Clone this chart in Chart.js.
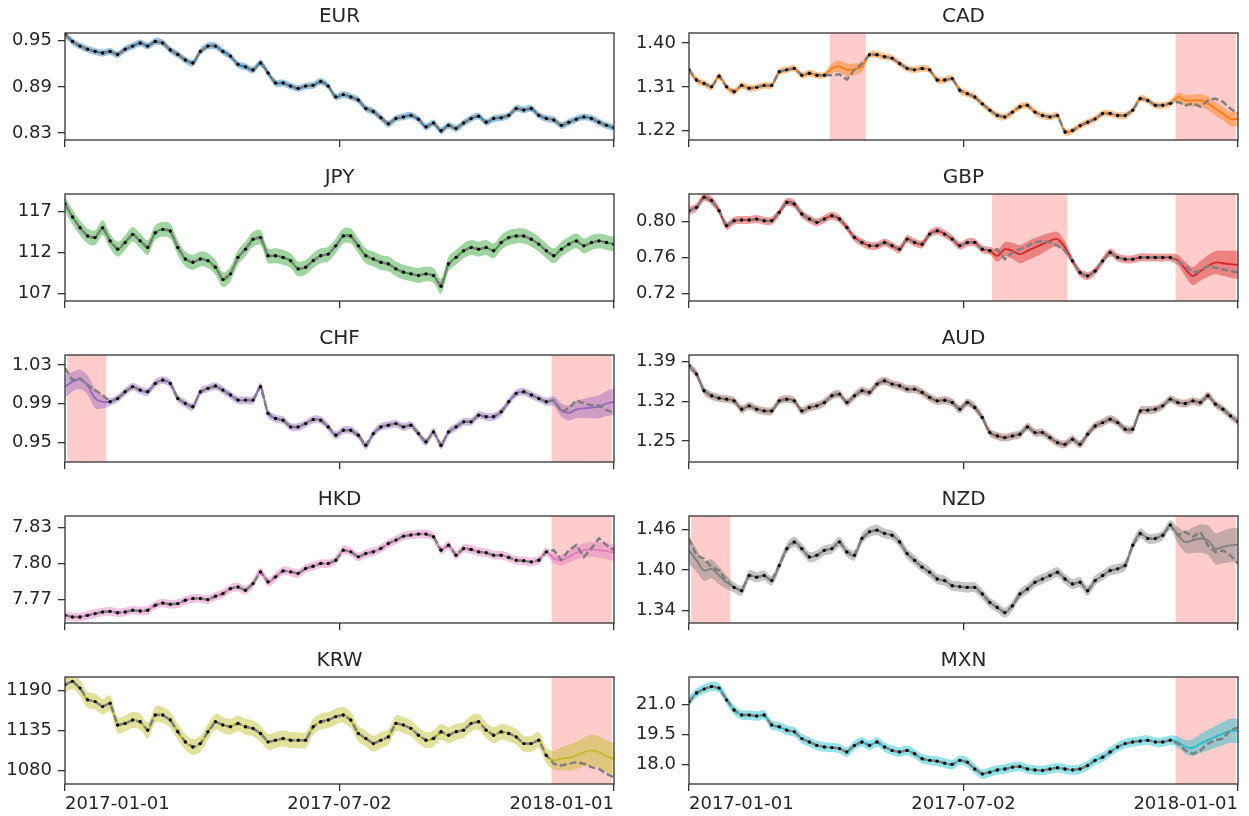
<!DOCTYPE html>
<html>
<head>
<meta charset="utf-8">
<title>Exchange rates per USD, 2017</title>
<script src="https://cdn.jsdelivr.net/npm/chart.js@4.4.1/dist/chart.umd.min.js"></script>
<style>
  html, body { margin: 0; padding: 0; background: #fff; }
  #wrap { position: relative; width: 1249px; height: 816px; overflow: hidden; }
  #wrap canvas { position: absolute; }
</style>
</head>
<body>
<div id="wrap"></div>
<script>
// sample days, counted from 2017-01-01
const days = [0,5,10,15,20,25,30,35,40,45,50,55,60,65,70,75,80,85,90,95,100,105,110,115,120,125,130,135,140,145,
  150,155,160,165,170,175,180,185,190,195,200,205,210,215,220,225,230,235,240,245,250,255,260,265,270,275,280,285,
  290,295,300,305,310,315,320,325,330,335,340,345,350,355,360,365];
const xTickDays = [0, 182.5, 365];
const xTickLabels = ['2017-01-01', '2017-07-02', '2018-01-01'];

// observed rates (dots + dashed line)
const eurObs = [0.958,0.949,0.943,0.939,0.936,0.934,0.936,0.932,0.939,0.943,0.947,0.943,0.949,0.947,0.938,0.932,0.925,0.921,0.936,0.943,
  0.943,0.936,0.930,0.919,0.916,0.912,0.921,0.908,0.895,0.895,0.891,0.888,0.891,0.892,0.897,0.891,0.877,0.880,0.877,0.873,
  0.862,0.858,0.850,0.842,0.849,0.851,0.853,0.848,0.838,0.843,0.833,0.840,0.836,0.843,0.849,0.852,0.844,0.849,0.850,0.853,
  0.862,0.860,0.862,0.853,0.849,0.847,0.840,0.844,0.848,0.851,0.849,0.844,0.840,0.837];
const cadObs = [1.345,1.324,1.317,1.310,1.332,1.310,1.300,1.313,1.307,1.309,1.313,1.313,1.341,1.345,1.348,1.334,1.338,1.334,1.334,1.334,
  1.336,1.325,1.345,1.358,1.376,1.376,1.372,1.369,1.358,1.348,1.345,1.348,1.345,1.324,1.324,1.327,1.303,1.296,1.289,1.275,
  1.262,1.251,1.248,1.258,1.269,1.272,1.258,1.251,1.248,1.251,1.217,1.220,1.230,1.237,1.244,1.255,1.255,1.251,1.251,1.262,
  1.286,1.282,1.272,1.272,1.276,1.279,1.272,1.276,1.269,1.282,1.286,1.279,1.265,1.255];
const jpyObs = [117.9,116.3,115.0,114.0,113.8,115.0,113.4,112.4,113.2,114.2,113.4,112.6,114.4,114.8,114.6,112.6,111.2,110.8,111.2,111.0,
  110.2,108.7,109.4,111.4,112.4,113.6,113.8,111.6,111.6,111.4,111.0,110.0,110.2,111.0,111.6,111.8,112.8,114.0,114.0,112.8,
  111.6,111.2,110.8,110.6,110.0,109.6,109.4,109.2,109.4,109.2,107.9,110.6,111.4,112.2,112.6,112.4,112.6,112.2,113.2,113.8,
  114.0,114.0,113.6,113.0,112.2,111.6,112.4,113.0,113.4,112.8,113.2,113.4,113.2,113.0];
const gbpObs = [0.8123,0.8161,0.8273,0.8236,0.8123,0.7955,0.8011,0.8019,0.8019,0.8030,0.8011,0.8011,0.8105,0.8217,0.8198,0.8086,0.8030,0.7993,0.8030,0.8067,
  0.8030,0.7936,0.7824,0.7768,0.7731,0.7731,0.7768,0.7731,0.7693,0.7806,0.7768,0.7749,0.7862,0.7899,0.7862,0.7806,0.7731,0.7768,0.7768,0.7693,
  0.7675,0.7693,0.7581,0.7656,0.7693,0.7731,0.7768,0.7787,0.7768,0.7731,0.7675,0.7562,0.7431,0.7394,0.7450,0.7562,0.7656,0.7600,0.7581,0.7581,
  0.7600,0.7600,0.7600,0.7600,0.7600,0.7562,0.7506,0.7431,0.7450,0.7506,0.7487,0.7469,0.7450,0.7431];
const chfObs = [1.0266,1.0145,1.0162,1.0093,1.0041,0.9990,0.9921,0.9955,1.0024,1.0076,1.0041,1.0024,1.0110,1.0145,1.0110,0.9955,0.9903,0.9869,1.0024,1.0059,
  1.0083,1.0041,0.9990,0.9938,0.9938,0.9938,1.0076,0.9800,0.9748,0.9731,0.9662,0.9662,0.9696,0.9738,0.9731,0.9662,0.9576,0.9627,0.9627,0.9576,
  0.9472,0.9593,0.9662,0.9679,0.9696,0.9662,0.9679,0.9593,0.9507,0.9610,0.9472,0.9610,0.9662,0.9714,0.9714,0.9783,0.9766,0.9766,0.9817,0.9921,
  1.0007,1.0024,0.9990,0.9955,0.9921,0.9938,0.9817,0.9852,0.9938,0.9903,0.9886,0.9886,0.9834,0.9807];
const audObs = [1.3829,1.3681,1.3386,1.3297,1.3256,1.3238,1.3208,1.3061,1.3120,1.3061,1.3031,1.3031,1.3208,1.3238,1.3208,1.3031,1.3090,1.3120,1.3179,1.3297,
  1.3327,1.3179,1.3297,1.3386,1.3356,1.3504,1.3563,1.3504,1.3474,1.3415,1.3415,1.3356,1.3268,1.3208,1.3220,1.3179,1.3061,1.3179,1.3090,1.2913,
  1.2647,1.2588,1.2558,1.2588,1.2618,1.2748,1.2647,1.2647,1.2558,1.2470,1.2440,1.2529,1.2440,1.2618,1.2765,1.2824,1.2883,1.2824,1.2706,1.2706,
  1.3031,1.3043,1.3061,1.3120,1.3238,1.3179,1.3161,1.3208,1.3179,1.3297,1.3150,1.3061,1.2943,1.2842];
const hkdObs = [7.7569,7.7555,7.7555,7.7569,7.7583,7.7597,7.7602,7.7591,7.7597,7.7611,7.7605,7.7611,7.7653,7.7672,7.7661,7.7667,7.7695,7.7709,7.7709,7.7700,
  7.7728,7.7750,7.7792,7.7806,7.7778,7.7834,7.7932,7.7848,7.7890,7.7940,7.7932,7.7918,7.7960,7.7979,7.8001,7.8001,7.8029,7.8113,7.8099,7.8057,
  7.8085,7.8099,7.8127,7.8169,7.8197,7.8230,7.8239,7.8247,7.8247,7.8225,7.8113,7.8155,7.8071,7.8127,7.8119,7.8099,7.8091,7.8071,7.8071,7.8052,
  7.8029,7.8024,7.8015,7.8029,7.8099,7.8113,7.8029,7.8113,7.8155,7.8057,7.8127,7.8211,7.8155,7.8113];
const nzdObs = [1.4466,1.4217,1.4167,1.4042,1.3992,1.3843,1.3743,1.3694,1.3918,1.3893,1.3918,1.3843,1.4067,1.4316,1.4416,1.4316,1.4192,1.4217,1.4291,1.4316,
  1.4416,1.4266,1.4217,1.4466,1.4565,1.4590,1.4540,1.4515,1.4416,1.4242,1.4142,1.4042,1.3967,1.3868,1.3843,1.3768,1.3754,1.3743,1.3743,1.3644,
  1.3519,1.3445,1.3370,1.3470,1.3644,1.3719,1.3818,1.3868,1.3918,1.3967,1.3868,1.3793,1.3818,1.3694,1.3843,1.3918,1.3992,1.4017,1.4067,1.4366,
  1.4540,1.4466,1.4466,1.4515,1.4665,1.4515,1.4565,1.4490,1.4565,1.4366,1.4266,1.4291,1.4217,1.4092];
const krwObs = [1198.4,1203.0,1193.7,1177.5,1175.1,1168.2,1172.8,1142.7,1145.0,1149.6,1147.3,1135.7,1156.6,1156.6,1149.6,1133.4,1119.5,1112.5,1117.1,1133.4,
  1147.3,1142.7,1140.3,1145.0,1140.3,1138.0,1131.1,1119.5,1121.8,1124.1,1121.8,1121.8,1121.8,1140.3,1147.3,1149.6,1154.3,1156.6,1149.6,1131.1,
  1124.1,1117.1,1121.8,1126.4,1145.0,1142.7,1138.0,1128.7,1121.8,1124.1,1133.4,1128.7,1133.4,1135.7,1145.0,1147.3,1135.7,1128.7,1133.4,1131.1,
  1126.4,1117.1,1117.1,1121.8,1100.9,1089.3,1087.0,1089.3,1091.6,1089.3,1084.7,1082.3,1075.4,1070.7];
const mxnObs = [21.13,21.56,21.76,21.89,21.81,21.22,20.71,20.46,20.46,20.41,20.46,19.96,19.87,19.70,19.62,19.28,19.11,18.94,18.86,18.83,
  18.78,18.61,18.94,19.11,18.94,19.11,18.86,18.69,18.61,18.69,18.52,18.27,18.19,18.15,18.05,17.98,18.19,18.10,17.76,17.51,
  17.60,17.71,17.76,17.85,17.88,17.76,17.71,17.68,17.76,17.82,17.76,17.71,17.76,17.93,18.19,18.35,18.61,18.86,19.03,19.11,
  19.16,19.20,19.11,19.11,19.20,19.03,18.69,18.52,18.69,19.03,19.20,19.28,19.70,19.84];

// held-out stretches: [day, predicted mean, half-width of band]
const cadHeld = [[95,1.348,0.010],[100,1.352,0.012],[105,1.345,0.013],[110,1.346,0.012],[115,1.352,0.010],
  [325,1.289,0.009],[330,1.282,0.011],[335,1.282,0.012],[340,1.282,0.013],[345,1.276,0.014],[350,1.265,0.014],[355,1.255,0.014],[360,1.244,0.015],[365,1.244,0.015]];
const gbpHeld = [[205,0.7619,0.0065],[210,0.7693,0.008],[215,0.7675,0.009],[220,0.7637,0.010],[225,0.7675,0.0105],[230,0.7712,0.0105],[235,0.7749,0.010],[240,0.7787,0.009],[245,0.7806,0.008],[250,0.7712,0.0065],
  [325,0.7570,0.006],[330,0.7469,0.008],[335,0.7394,0.010],[340,0.7450,0.011],[345,0.7506,0.012],[350,0.7544,0.013],[355,0.7536,0.014],[360,0.7525,0.015],[365,0.7517,0.016]];
const chfHeld = [[0,1.0076,0.012],[5,1.0128,0.010],[10,1.0152,0.010],[15,1.0093,0.010],[20,0.9955,0.010],[25,0.9921,0.007],
  [325,0.9927,0.005],[330,0.9834,0.007],[335,0.9807,0.008],[340,0.9841,0.009],[345,0.9852,0.010],[350,0.9862,0.011],[355,0.9869,0.012],[360,0.9903,0.013],[365,0.9921,0.014]];
const hkdHeld = [[325,7.8043,0.004],[330,7.8029,0.0045],[335,7.8057,0.005],[340,7.8091,0.0055],[345,7.8113,0.006],[350,7.8119,0.0062],[355,7.8113,0.0065],[360,7.8105,0.0068],[365,7.8091,0.007]];
const nzdHeld = [[0,1.4291,0.020],[5,1.4142,0.017],[10,1.3992,0.015],[15,1.4017,0.014],[20,1.3918,0.013],[25,1.3818,0.010],
  [325,1.4515,0.012],[330,1.4416,0.016],[335,1.4441,0.019],[340,1.4466,0.021],[345,1.4441,0.022],[350,1.4316,0.023],[355,1.4341,0.024],[360,1.4366,0.025],[365,1.4376,0.025]];
const krwHeld = [[325,1093.9,13],[330,1096.3,16],[335,1097.6,18],[340,1100.9,19],[345,1105.5,20],[350,1107.9,21],[355,1105.5,22],[360,1099.5,22],[365,1096.3,22]];
const mxnHeld = [[325,19.11,0.28],[330,18.86,0.35],[335,18.83,0.42],[340,19.03,0.48],[345,19.20,0.52],[350,19.37,0.55],[355,19.53,0.58],[360,19.67,0.60],[365,19.67,0.62]];

// shaded day ranges
const earlyGap = [1.5, 27.5];
const lateGap = [323.5, 363.5];

const panels = [
  {name: 'EUR', obs: eurObs, held: [], gaps: [], band: 0.0045, color: '#1f77b4', yTicks: [0.83, 0.89, 0.95], min: 0.821, max: 0.960, dec: 2},
  {name: 'CAD', obs: cadObs, held: cadHeld, gaps: [[93.5, 117.6], lateGap], band: 0.007, color: '#ff7f0e', yTicks: [1.22, 1.31, 1.40], min: 1.2006, max: 1.4208, dec: 2},
  {name: 'JPY', obs: jpyObs, held: [], gaps: [], band: 0.9, color: '#2ca02c', yTicks: [107, 112, 117], min: 106.1, max: 119.1, dec: 0},
  {name: 'GBP', obs: gbpObs, held: gbpHeld, gaps: [[201.5, 251.6], lateGap], band: 0.0045, color: '#d62728', yTicks: [0.72, 0.76, 0.80], min: 0.7114, max: 0.831, dec: 2},
  {name: 'CHF', obs: chfObs, held: chfHeld, gaps: [earlyGap, lateGap], band: 0.004, color: '#9467bd', yTicks: [0.95, 0.99, 1.03], min: 0.930, max: 1.0403, dec: 2},
  {name: 'AUD', obs: audObs, held: [], gaps: [], band: 0.007, color: '#8c564b', yTicks: [1.25, 1.32, 1.39], min: 1.2128, max: 1.4018, dec: 2},
  {name: 'HKD', obs: hkdObs, held: hkdHeld, gaps: [lateGap], band: 0.0036, color: '#e377c2', yTicks: [7.77, 7.80, 7.83], min: 7.7505, max: 7.8398, dec: 2},
  {name: 'NZD', obs: nzdObs, held: nzdHeld, gaps: [earlyGap, lateGap], band: 0.0075, color: '#7f7f7f', yTicks: [1.34, 1.40, 1.46], min: 1.3216, max: 1.4799, dec: 2},
  {name: 'KRW', obs: krwObs, held: krwHeld, gaps: [lateGap], band: 11, color: '#bcbd22', yTicks: [1080, 1135, 1190], min: 1061.4, max: 1209.0, dec: 0},
  {name: 'MXN', obs: mxnObs, held: mxnHeld, gaps: [lateGap], band: 0.24, color: '#17becf', yTicks: [18.0, 19.5, 21.0], min: 17.006, max: 22.365, dec: 1}
];

// grid geometry
const ROW_TOP = [33, 194, 355, 516, 677];
const PLOT_H = 107;
const HEAD = 33;
const COLS = [
  {left: 0, width: 624, axisW: 65, padRight: 10},
  {left: 624, width: 625, axisW: 65, padRight: 11}
];
const INK = '#262626';
const SPINE = '#333333';

Chart.defaults.font.family = "'DejaVu Sans', sans-serif";
Chart.defaults.color = INK;

function rgba(hex, a) {
  const n = parseInt(hex.slice(1), 16);
  return `rgba(${n >> 16},${(n >> 8) & 255},${n & 255},${a})`;
}

// red held-out spans under the data, plus a full box around the axes
const panelDecor = {
  id: 'panelDecor',
  beforeDatasetsDraw(chart, args, opts) {
    const {ctx, chartArea: a, scales: {x}} = chart;
    ctx.save();
    ctx.fillStyle = 'rgba(255,0,0,0.2)';
    for (const [s, e] of opts.gaps) {
      const x0 = x.getPixelForValue(s);
      const x1 = x.getPixelForValue(e);
      ctx.fillRect(x0, a.top, x1 - x0, a.bottom - a.top);
    }
    ctx.restore();
  },
  afterDraw(chart) {
    const {ctx, chartArea: a} = chart;
    ctx.save();
    ctx.strokeStyle = SPINE;
    ctx.lineWidth = 1.3;
    ctx.strokeRect(a.left, a.top, a.right - a.left, a.bottom - a.top);
    ctx.restore();
  }
};

const wrap = document.getElementById('wrap');

panels.forEach((p, k) => {
  const row = Math.floor(k / 2);
  const col = COLS[k % 2];
  const bottomRow = row === ROW_TOP.length - 1;
  const xAxisH = bottomRow ? 32 : 9;

  const canvas = document.createElement('canvas');
  canvas.width = col.width;
  canvas.height = HEAD + PLOT_H + xAxisH;
  canvas.style.left = col.left + 'px';
  canvas.style.top = (ROW_TOP[row] - HEAD) + 'px';
  wrap.appendChild(canvas);

  const held = new Map(p.held.map(([d, m, h]) => [d, [m, h]]));
  const mean = [], lower = [], upper = [], truth = [], dots = [];
  days.forEach((d, i) => {
    const v = p.obs[i];
    const f = held.get(d);
    const m = f ? f[0] : v;
    const h = f ? f[1] : p.band;
    mean.push({x: d, y: m});
    lower.push({x: d, y: m - h});
    upper.push({x: d, y: m + h});
    truth.push({x: d, y: v});
    if (!f) dots.push({x: d, y: v});
  });

  const grid = {drawOnChartArea: false, drawTicks: true, tickLength: 7, color: SPINE, lineWidth: 1.3};

  new Chart(canvas, {
    type: 'line',
    data: {
      datasets: [
        {data: lower, borderColor: 'transparent', borderWidth: 0, pointRadius: 0, tension: 0.35, fill: false, order: 4},
        {data: upper, borderColor: 'transparent', borderWidth: 0, pointRadius: 0, tension: 0.35, fill: '-1',
          backgroundColor: rgba(p.color, 0.45), order: 3},
        {data: mean, borderColor: p.color, borderWidth: 1.8, pointRadius: 0, tension: 0.35, fill: false, order: 2},
        {data: truth, borderColor: '#7f7f7f', borderWidth: 2.5, borderDash: [7, 3], pointRadius: 0, fill: false, order: 1},
        {data: dots, showLine: false, pointRadius: 1.7, pointBorderWidth: 0, pointBackgroundColor: '#000', fill: false, order: 0}
      ]
    },
    options: {
      responsive: false,
      animation: false,
      devicePixelRatio: 1,
      events: [],
      layout: {padding: {left: 0, right: col.padRight, top: 0, bottom: 0}},
      plugins: {
        legend: {display: false},
        tooltip: {enabled: false},
        title: {
          display: true, text: p.name, fullSize: false, color: INK,
          font: {size: 20, weight: 'normal', lineHeight: 1},
          padding: {top: 7, bottom: 6}
        },
        panelDecor: {gaps: p.gaps}
      },
      scales: {
        x: {
          type: 'linear', min: 0, max: 365,
          afterBuildTicks: s => { s.ticks = xTickDays.map(v => ({value: v})); },
          afterFit: s => { s.height = xAxisH; s.paddingLeft = 0; s.paddingRight = 0; },
          grid: grid,
          border: {display: false},
          ticks: {
            display: bottomRow, align: 'inner', maxRotation: 0, autoSkip: false, padding: 3,
            color: INK, font: {size: 18},
            callback: (v, i) => xTickLabels[i]
          }
        },
        y: {
          min: p.min, max: p.max,
          afterBuildTicks: s => { s.ticks = p.yTicks.map(v => ({value: v})); },
          afterFit: s => { s.width = col.axisW; s.paddingTop = 0; s.paddingBottom = 0; },
          grid: grid,
          border: {display: false},
          ticks: {padding: 6, color: INK, font: {size: 18}, callback: v => Number(v).toFixed(p.dec)}
        }
      }
    },
    plugins: [panelDecor]
  });
});
</script>
</body>
</html>
